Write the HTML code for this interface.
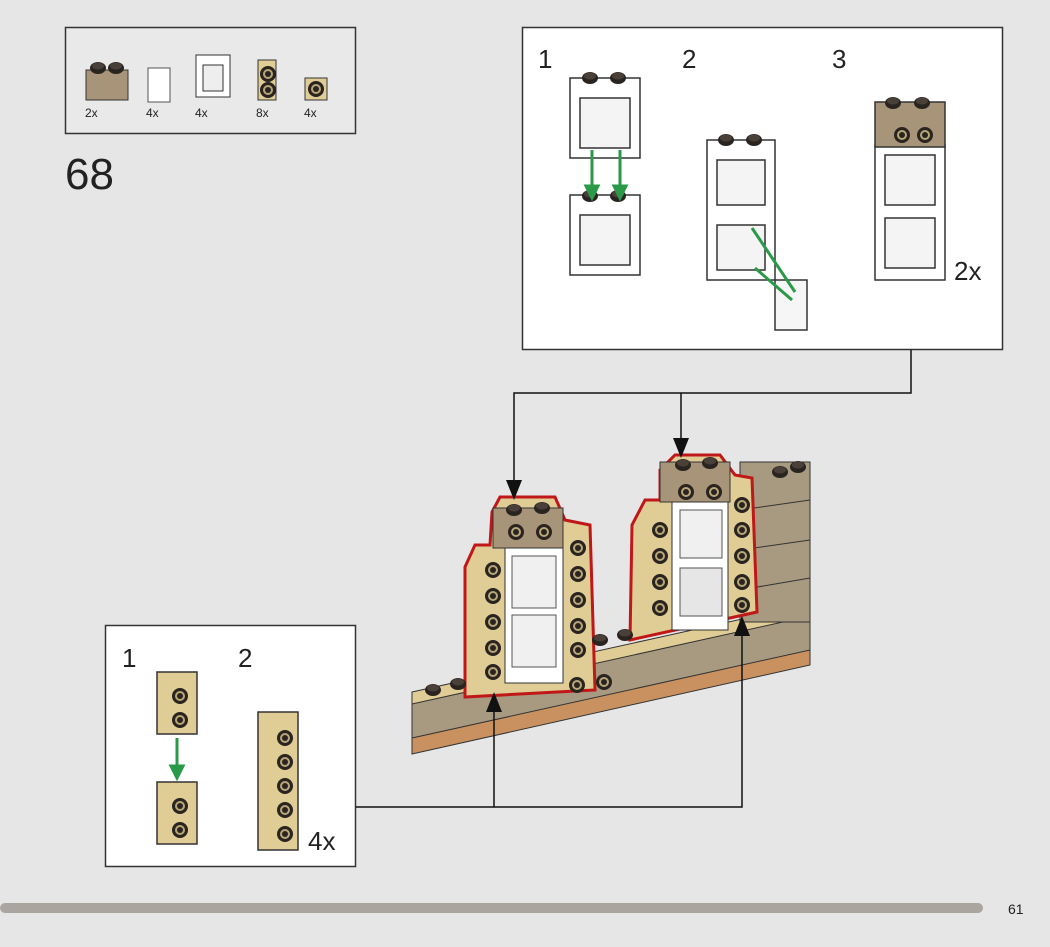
<!DOCTYPE html>
<html><head><meta charset="utf-8"><style>
body{margin:0;width:1050px;height:942px;background:#e6e6e6;overflow:hidden;font-family:"Liberation Sans",sans-serif}
</style></head><body>
<svg width="1050" height="942" viewBox="0 0 1050 942" xmlns="http://www.w3.org/2000/svg" font-family="Liberation Sans, sans-serif">
<defs>
<g id="stud"><ellipse cx="0" cy="0" rx="8" ry="6" fill="#2a2420"/><ellipse cx="0" cy="-2" rx="6" ry="3.5" fill="#4a403a"/></g>
<g id="sstud"><circle r="8" fill="#2a2420"/><circle r="5" fill="#b8a878"/><circle r="3" fill="#2a2420"/></g>
</defs>
<!-- parts box -->
<rect x="65.5" y="27.5" width="290" height="106" fill="#e9e9e9" stroke="#333" stroke-width="1.5"/>
<rect x="86" y="70" width="42" height="30" fill="#a89478" stroke="#333"/><use href="#stud" x="98" y="68"/><use href="#stud" x="116" y="68"/>
<rect x="148" y="68" width="22" height="34" fill="#fff" stroke="#555"/>
<rect x="196" y="55" width="34" height="42" fill="#fff" stroke="#333"/><rect x="203" y="65" width="20" height="26" fill="#eee" stroke="#333"/>
<rect x="258" y="60" width="18" height="40" fill="#e0cc95" stroke="#333"/><use href="#sstud" x="268" y="74"/><use href="#sstud" x="268" y="90"/>
<rect x="305" y="78" width="22" height="22" fill="#e0cc95" stroke="#333"/><use href="#sstud" x="316" y="89"/>
<g font-size="12" fill="#222"><text x="85" y="117">2x</text><text x="146" y="117">4x</text><text x="195" y="117">4x</text><text x="256" y="117">8x</text><text x="304" y="117">4x</text></g>
<text x="65" y="189" font-size="44" fill="#222">68</text>
<!-- top right box -->
<rect x="522.5" y="27.5" width="480" height="322" fill="#fff" stroke="#333" stroke-width="1.5"/>
<g font-size="26" fill="#222"><text x="538" y="68">1</text><text x="682" y="68">2</text><text x="832" y="68">3</text><text x="954" y="280">2x</text></g>
<g stroke="#333" stroke-width="1.5" fill="#fff">
<rect x="570" y="78" width="70" height="80"/><rect x="580" y="98" width="50" height="50" fill="#f4f4f4"/>
<rect x="570" y="195" width="70" height="80"/><rect x="580" y="215" width="50" height="50" fill="#f4f4f4"/>
<rect x="707" y="140" width="68" height="140"/><rect x="717" y="160" width="48" height="45" fill="#f4f4f4"/><rect x="717" y="225" width="48" height="45" fill="#f4f4f4"/>
<rect x="775" y="280" width="32" height="50" fill="#f6f6f6"/>
<rect x="875" y="145" width="70" height="135"/><rect x="885" y="155" width="50" height="50" fill="#f4f4f4"/><rect x="885" y="218" width="50" height="50" fill="#f4f4f4"/>
<rect x="875" y="102" width="70" height="45" fill="#a89478"/>
</g>
<use href="#stud" x="590" y="78"/><use href="#stud" x="618" y="78"/><use href="#stud" x="590" y="196"/><use href="#stud" x="618" y="196"/>
<use href="#stud" x="726" y="140"/><use href="#stud" x="754" y="140"/><use href="#stud" x="893" y="103"/><use href="#stud" x="922" y="103"/>
<use href="#sstud" x="902" y="135"/><use href="#sstud" x="925" y="135"/>
<g stroke="#2a9a48" stroke-width="3" fill="#2a9a48">
<line x1="592" y1="150" x2="592" y2="188"/><polygon points="586,186 598,186 592,198"/>
<line x1="620" y1="150" x2="620" y2="188"/><polygon points="614,186 626,186 620,198"/>
<line x1="795" y1="292" x2="752" y2="228"/><line x1="792" y1="300" x2="755" y2="268"/>
</g>
<!-- bottom left box -->
<rect x="105.5" y="625.5" width="250" height="241" fill="#fff" stroke="#333" stroke-width="1.5"/>
<g font-size="26" fill="#222"><text x="122" y="667">1</text><text x="238" y="667">2</text><text x="308" y="850">4x</text></g>
<g stroke="#333" stroke-width="1.5" fill="#e0cc95">
<rect x="157" y="672" width="40" height="62"/><rect x="157" y="782" width="40" height="62"/>
<rect x="258" y="712" width="40" height="138"/>
</g>
<use href="#sstud" x="180" y="696"/><use href="#sstud" x="180" y="720"/><use href="#sstud" x="180" y="806"/><use href="#sstud" x="180" y="830"/>
<use href="#sstud" x="285" y="738"/><use href="#sstud" x="285" y="762"/><use href="#sstud" x="285" y="786"/><use href="#sstud" x="285" y="810"/><use href="#sstud" x="285" y="834"/>
<g stroke="#2a9a48" stroke-width="3" fill="#2a9a48"><line x1="177" y1="738" x2="177" y2="768"/><polygon points="171,766 183,766 177,778"/></g>
<!-- model -->
<polygon points="412,700 810,612 810,660 412,750" fill="#a89a80" stroke="#333"/>
<polygon points="412,738 810,650 810,665 412,754" fill="#c8915f" stroke="#333"/>
<polygon points="412,692 810,604 810,616 412,704" fill="#e0cc95" stroke="#333"/>
<rect x="740" y="462" width="70" height="160" fill="#a89a80" stroke="#333"/>
<g stroke="#333"><line x1="740" y1="510" x2="810" y2="500"/><line x1="740" y1="550" x2="810" y2="540"/><line x1="740" y1="590" x2="810" y2="578"/></g>
<polygon points="630,640 632,525 645,500 660,500 660,470 675,455 720,455 735,475 752,478 757,612" fill="#e0cc95" stroke="#c01818" stroke-width="3"/>
<rect x="660" y="462" width="70" height="40" fill="#a89478" stroke="#333"/>
<rect x="672" y="502" width="56" height="128" fill="#fff" stroke="#333"/>
<rect x="680" y="510" width="42" height="48" fill="#f0f0f0" stroke="#555"/><rect x="680" y="568" width="42" height="48" fill="#e6e6e6" stroke="#555"/>
<polygon points="465,697 465,567 475,545 490,545 492,512 500,497 555,497 565,520 590,525 595,690" fill="#e0cc95" stroke="#c01818" stroke-width="3"/>
<rect x="493" y="508" width="70" height="40" fill="#a89478" stroke="#333"/>
<rect x="505" y="548" width="58" height="135" fill="#fff" stroke="#333"/>
<rect x="512" y="556" width="44" height="52" fill="#f0f0f0" stroke="#555"/><rect x="512" y="615" width="44" height="52" fill="#f0f0f0" stroke="#555"/>
<g>
<use href="#sstud" x="493" y="570"/><use href="#sstud" x="493" y="596"/><use href="#sstud" x="493" y="622"/><use href="#sstud" x="493" y="648"/><use href="#sstud" x="493" y="672"/>
<use href="#sstud" x="578" y="548"/><use href="#sstud" x="578" y="574"/><use href="#sstud" x="578" y="600"/><use href="#sstud" x="578" y="626"/><use href="#sstud" x="578" y="650"/>
<use href="#sstud" x="660" y="530"/><use href="#sstud" x="660" y="556"/><use href="#sstud" x="660" y="582"/><use href="#sstud" x="660" y="608"/>
<use href="#sstud" x="742" y="505"/><use href="#sstud" x="742" y="530"/><use href="#sstud" x="742" y="556"/><use href="#sstud" x="742" y="582"/><use href="#sstud" x="742" y="605"/>
<use href="#sstud" x="516" y="532"/><use href="#sstud" x="544" y="532"/><use href="#sstud" x="686" y="492"/><use href="#sstud" x="714" y="492"/>
<use href="#sstud" x="577" y="685"/><use href="#sstud" x="604" y="682"/>
</g>
<use href="#stud" x="514" y="510"/><use href="#stud" x="542" y="508"/><use href="#stud" x="683" y="465"/><use href="#stud" x="710" y="463"/>
<use href="#stud" x="433" y="690"/><use href="#stud" x="458" y="684"/><use href="#stud" x="600" y="640"/><use href="#stud" x="625" y="635"/><use href="#stud" x="780" y="472"/><use href="#stud" x="798" y="467"/>
<!-- connectors -->
<g stroke="#111" stroke-width="1.5" fill="none">
<polyline points="911,350 911,393 514,393 514,485"/><line x1="681" y1="393" x2="681" y2="443"/>
<polyline points="356,807 742,807 742,630"/><line x1="494" y1="807" x2="494" y2="705"/>
</g>
<g fill="#111">
<polygon points="506,480 522,480 514,500"/><polygon points="673,438 689,438 681,458"/>
<polygon points="486,712 502,712 494,692"/><polygon points="734,636 750,636 742,616"/>
</g>
<line x1="5" y1="908" x2="978" y2="908" stroke="#aaa59e" stroke-width="10" stroke-linecap="round"/>
<text x="1008" y="914" font-size="14" fill="#222">61</text>
</svg>
</body></html>
